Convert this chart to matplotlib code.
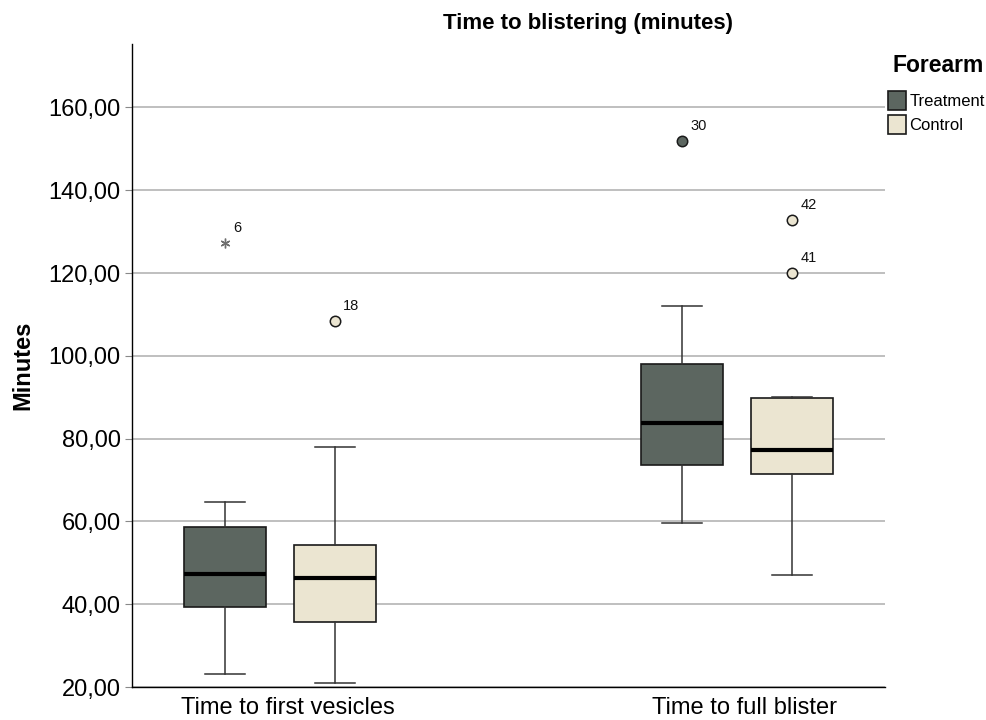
import matplotlib
matplotlib.use("Agg")
import matplotlib.pyplot as plt
from matplotlib.patches import Patch

plt.rcParams['font.family'] = ['Liberation Sans', 'DejaVu Sans']

categories = ["Time to first vesicles", "Time to full blister"]
groups = ["Treatment", "Control"]
colors = {"Treatment": "#5c6660", "Control": "#ebe5d1"}

# five-number summaries [whislo, q1, median, q3, whishi] per category
treatment_stats = [[23.2, 39.3, 47.3, 58.7, 64.7], [59.7, 73.7, 83.8, 98.0, 112.1]]
control_stats = [[20.9, 35.7, 46.4, 54.3, 78.0], [47.0, 71.4, 77.3, 89.7, 90.0]]

# outliers: (category index, group, value, case label, extreme?)
outliers = [
    (0, "Treatment", 127.2, "6", True),
    (0, "Control", 108.3, "18", False),
    (1, "Treatment", 151.9, "30", False),
    (1, "Control", 132.7, "42", False),
    (1, "Control", 119.9, "41", False),
]

yticks = [20, 40, 60, 80, 100, 120, 140, 160]

fig = plt.figure(figsize=(9.87, 7.2), dpi=100)
ax = fig.add_axes([0.1337, 0.0458, 0.763, 0.893])

offset = {"Treatment": -0.1204, "Control": 0.1204}
width = 0.179

for g, stats in (("Treatment", treatment_stats), ("Control", control_stats)):
    bxp_stats = []
    for s in stats:
        bxp_stats.append(dict(whislo=s[0], q1=s[1], med=s[2], q3=s[3], whishi=s[4], fliers=[]))
    pos = [i + offset[g] for i in range(len(categories))]
    ax.bxp(bxp_stats, positions=pos, widths=width, patch_artist=True,
           showfliers=False, capwidths=width / 2,
           boxprops=dict(facecolor=colors[g], edgecolor="#1a1a1a", linewidth=1.2),
           medianprops=dict(color="black", linewidth=3.0, solid_capstyle="butt"),
           whiskerprops=dict(color="#333333", linewidth=1.1),
           capprops=dict(color="#333333", linewidth=1.1), zorder=3)

for ci, g, v, lab, extreme in outliers:
    x = ci + offset[g]
    if extreme:
        ax.plot([x], [v], marker=(6, 2, 0), color="#6e6e6e", markersize=7, linestyle="none",
                zorder=4, markeredgewidth=1.0)
    else:
        ax.plot([x], [v], marker="o", markerfacecolor=colors[g], markeredgecolor="#1a1a1a",
                markersize=7.5, markeredgewidth=1.1, linestyle="none", zorder=4)
    ax.annotate(lab, (x, v), xytext=(6, 6), textcoords="offset points",
                fontsize=10.5, ha="left", va="bottom", color="#111111")

ax.set_xlim(-0.324, 1.324)
ax.set_ylim(20, 175.3)
ax.set_yticks(yticks)
ax.set_yticklabels([f"{t:.2f}".replace(".", ",") for t in yticks], fontsize=17)
ax.set_xticks([i + 0.0175 for i in range(len(categories))])
ax.set_xticklabels(categories, fontsize=17)
ax.tick_params(axis="x", length=0, pad=7)
ax.tick_params(axis="y", length=5, width=0.8, color="#888888", pad=3)
ax.yaxis.grid(True, color="#b4b4b4", linewidth=1.2, zorder=0)
ax.set_axisbelow(True)
for s in ("top", "right"):
    ax.spines[s].set_visible(False)
for s in ("left", "bottom"):
    ax.spines[s].set_color("black")
    ax.spines[s].set_linewidth(1.0)

ax.set_ylabel("Minutes", fontsize=17, fontweight="bold", labelpad=10)
fig.text(0.596, 0.968, "Time to blistering (minutes)", fontsize=16, fontweight="bold",
         ha="center", va="center")

fig.text(893 / 987, 1 - 65 / 720, "Forearm", fontsize=16.5, fontweight="bold",
         ha="left", va="center")
handles = [Patch(facecolor=colors[g], edgecolor="#1a1a1a", linewidth=1.2, label=g) for g in groups]
leg = fig.legend(handles=handles, loc="upper left",
                 bbox_to_anchor=(886 / 987, 1 - 89 / 720), frameon=False, fontsize=12,
                 handlelength=1.1, handleheight=1.45, handletextpad=0.2,
                 labelspacing=0.25, borderpad=0.1, borderaxespad=0)

fig.savefig("out.png", dpi=100)
